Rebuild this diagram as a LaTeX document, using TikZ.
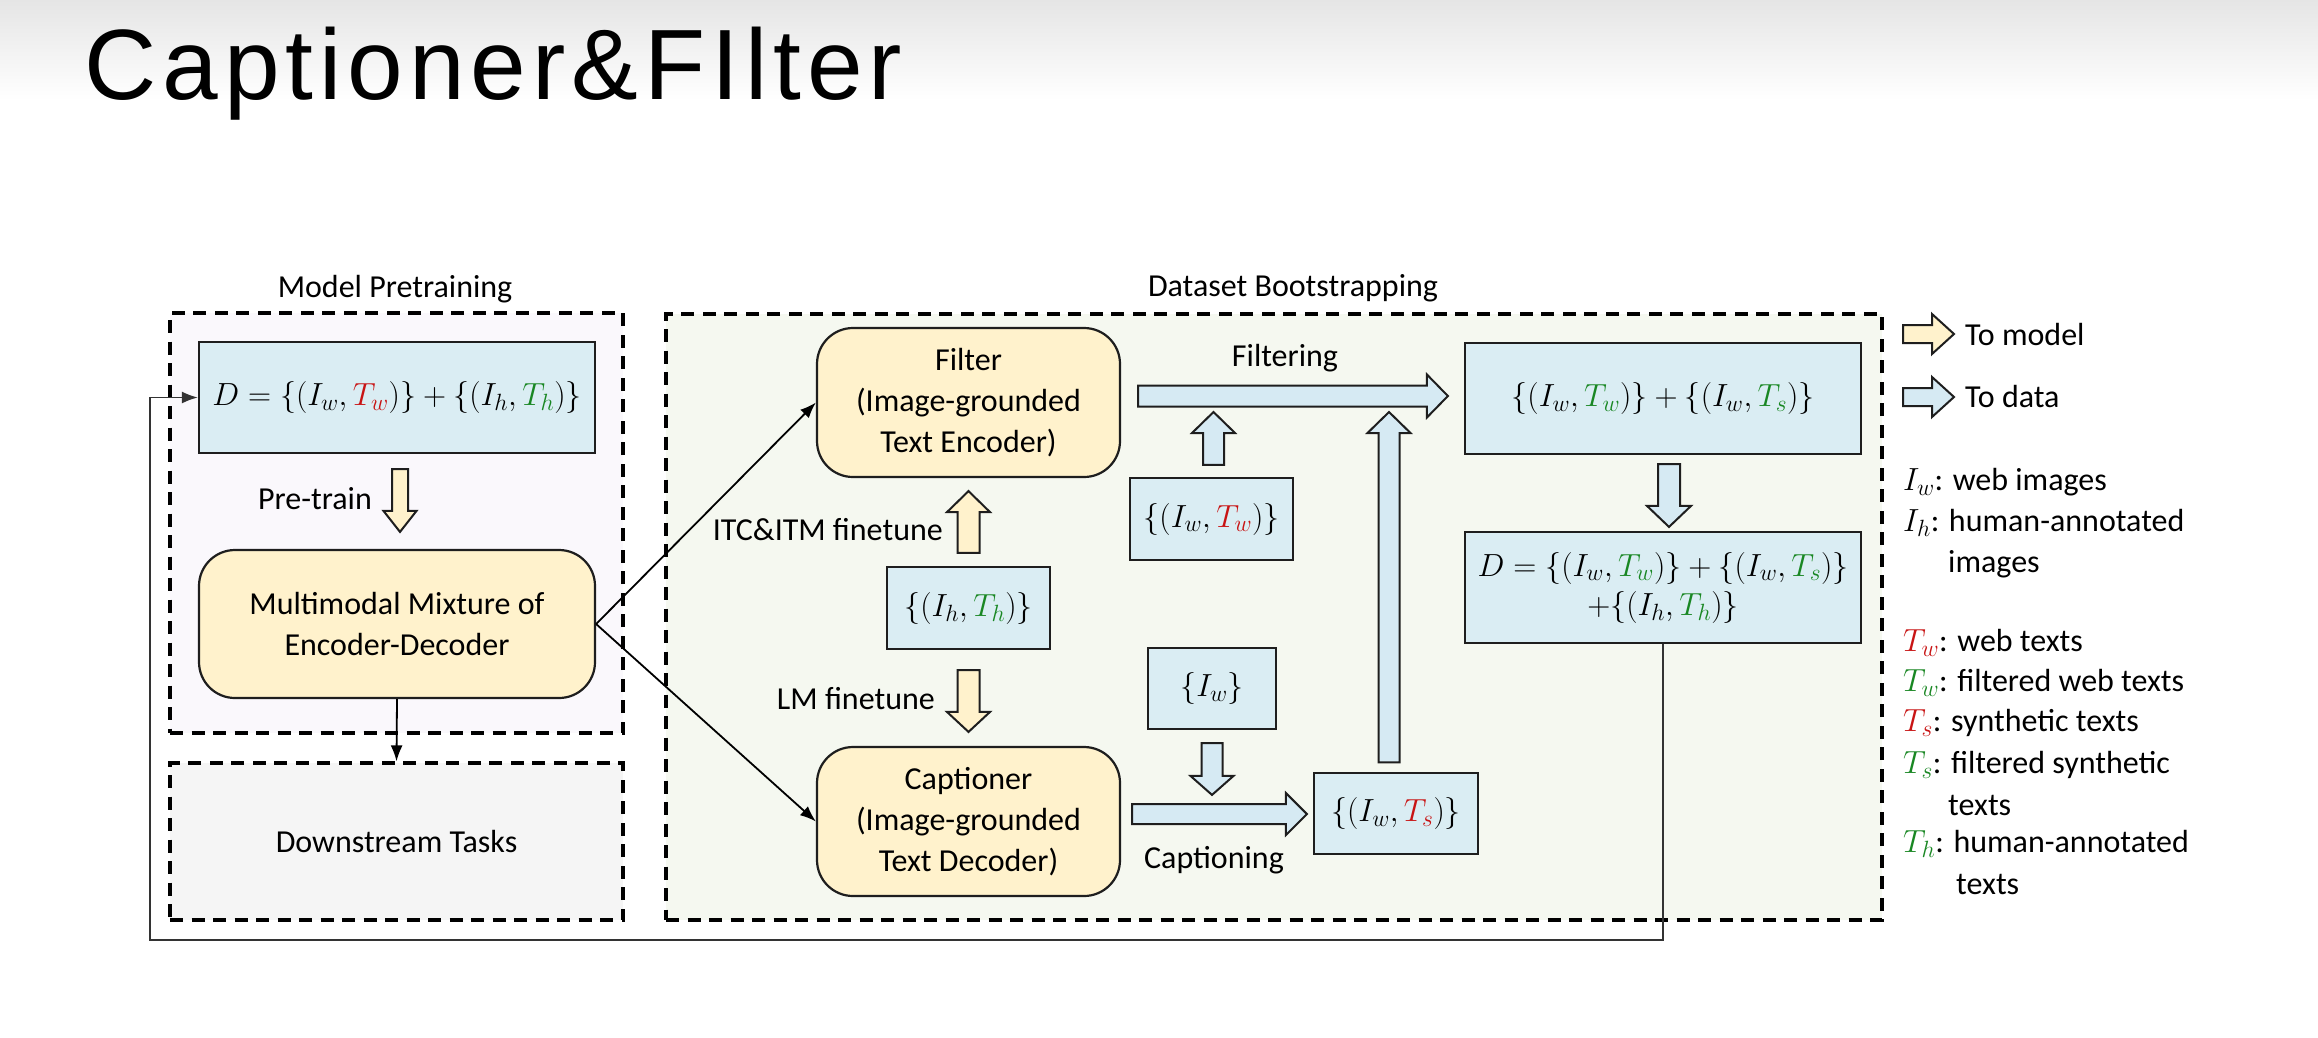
\RequirePackage{fix-cm}
\documentclass[tikz,border=0pt]{standalone}
\usepackage[no-math]{fontspec}
\setmainfont{Carlito}
\newfontfamily\titlefont[LetterSpace=6]{Liberation Sans}
\usetikzlibrary{calc,arrows.meta}
\DeclareMathSizes{32}{32}{23.5}{17}
\definecolor{bluebox}{RGB}{218,237,243}
\definecolor{yellowbox}{RGB}{255,242,204}
\definecolor{mpfill}{RGB}{250,248,252}
\definecolor{dsfill}{RGB}{245,245,245}
\definecolor{dbfill}{RGB}{245,248,240}
\definecolor{tred}{RGB}{200,20,20}
\definecolor{tgreen}{RGB}{25,135,35}
\definecolor{bluearrow}{RGB}{214,234,243}
\definecolor{topgray}{RGB}{229,229,229}
\definecolor{edge}{RGB}{30,30,30}

\newcommand{\fatarrow}[6]{%
  \coordinate (faS) at #2;
  \coordinate (faE) at #3;
  \coordinate (faH) at ($(faE)!#6!(faS)$);
  \draw[line width=2pt, draw=edge, fill=#1, line join=miter]
    ($(faS)!#4!90:(faE)$) -- ($(faH)!#4!90:(faE)$) -- ($(faH)!#5!90:(faE)$) --
    (faE) -- ($(faH)!#5!-90:(faE)$) -- ($(faH)!#4!-90:(faE)$) --
    ($(faS)!#4!-90:(faE)$) -- cycle;
}

\tikzset{
  region/.style={draw=black, line width=3.2pt, dash pattern=on 13pt off 8.5pt, inner sep=0pt},
  databox/.style={draw=edge, line width=2.2pt, fill=bluebox, inner sep=0pt, align=center},
  modelbox/.style={draw=edge, line width=2.2pt, fill=yellowbox, rounded corners=36pt, inner sep=0pt, align=center},
  lbl/.style={inner sep=0pt},
  link/.style={draw=black, line width=1.8pt, -{Latex[length=16pt,width=12pt]}},
  feedback/.style={draw=black!80, line width=1.8pt, -{Latex[length=16pt,width=12pt]}},
}

\begin{document}
\begin{tikzpicture}[x=1pt, y=-1pt, font=\fontsize{32}{41}\selectfont]
\useasboundingbox (0,0) rectangle (2318,1037);
\fill[white] (0,0) rectangle (2318,1037);
\shade[top color=topgray, bottom color=white] (0,0) rectangle (2318,100);

% title
\node[anchor=base west, inner sep=0pt] (title) at (84,99)
  {\titlefont\fontsize{100}{110}\selectfont Captioner\&FIlter};

% regions
\node[region, fill=mpfill, minimum width=453pt, minimum height=420pt] (mp) at (396.5,523) {};
\node[region, fill=dsfill, minimum width=453pt, minimum height=157pt] (ds) at (396.5,841.5) {Downstream Tasks};
\node[region, fill=dbfill, minimum width=1216pt, minimum height=606pt] (db) at (1274,617) {};
\node[lbl] (mplabel) at (395,289) {Model Pretraining};
\node[lbl] (dblabel) at (1293,288) {Dataset Bootstrapping};

% data boxes
\node[databox, minimum width=396pt, minimum height=111pt] (dbox) at (397,397.5)
  {$D=\{(I_w,\textcolor{tred}{T_w})\}+\{(I_h,\textcolor{tgreen}{T_h})\}$};
\node[databox, minimum width=163pt, minimum height=82pt] (ihth) at (968.5,608)
  {$\{(I_h,\textcolor{tgreen}{T_h})\}$};
\node[databox, minimum width=163pt, minimum height=82pt] (iwtw) at (1211.5,519)
  {$\{(I_w,\textcolor{tred}{T_w})\}$};
\node[databox, minimum width=128pt, minimum height=81pt] (iw) at (1212,688.5)
  {$\{I_w\}$};
\node[databox, minimum width=164pt, minimum height=81pt] (iwts) at (1396,813.5)
  {$\{(I_w,\textcolor{tred}{T_s})\}$};
\node[databox, minimum width=396pt, minimum height=111pt] (rb1) at (1663,398.5)
  {$\{(I_w,\textcolor{tgreen}{T_w})\}+\{(I_w,\textcolor{tgreen}{T_s})\}$};
\node[databox, minimum width=396pt, minimum height=111pt] (rb2) at (1663,587.5)
  {$D=\{(I_w,\textcolor{tgreen}{T_w})\}+\{(I_w,\textcolor{tgreen}{T_s})\}$\\[-2pt]
   ${+}\{(I_h,\textcolor{tgreen}{T_h})\}$};

% model boxes
\node[modelbox, minimum width=396pt, minimum height=148pt] (mmed) at (397,624)
  {Multimodal Mixture of\\Encoder-Decoder};
\node[modelbox, minimum width=303pt, minimum height=149pt] (filter) at (968.5,402.5)
  {Filter\\(Image-grounded\\Text Encoder)};
\node[modelbox, minimum width=303pt, minimum height=149pt] (capt) at (968.5,821.5)
  {Captioner\\(Image-grounded\\Text Decoder)};

% labels
\node[lbl, anchor=east] (ptlabel) at (372,499) {Pre-train};
\node[lbl, anchor=east] (itclabel) at (943,530) {ITC\&ITM finetune};
\node[lbl, anchor=east] (lmlabel) at (935,699) {LM finetune};
\node[lbl] (filtlabel) at (1285,358) {Filtering};
\node[lbl] (caplabel) at (1214,860) {Captioning};

% thin connectors
\draw[link] (mmed.east) -- (filter.west);
\draw[link] (mmed.east) -- (capt.west);
\draw[link] (mmed.south) -- (ds.north);
\coordinate (fbcorner) at (150,940);
\draw[feedback] (rb2.south) |- (fbcorner) |- (dbox.west);

% block arrows
\fatarrow{yellowbox}{($(dbox.south)+(3,15)$)}{($(mmed.north)+(3,-17)$)}{8pt}{16.5pt}{21pt}
\fatarrow{yellowbox}{($(ihth.north)+(0,-13)$)}{($(filter.south)+(0,13)$)}{11pt}{21.5pt}{21pt}
\fatarrow{yellowbox}{($(ihth.south)+(0,20)$)}{($(capt.north)+(0,-14)$)}{11pt}{21.5pt}{20pt}
\fatarrow{bluearrow}{($(filter.east)+(17,-6.5)$)}{($(rb1.west)+(-16,-2.5)$)}{10.5pt}{21.5pt}{21pt}
\fatarrow{bluearrow}{($(capt.east)+(11,-7.5)$)}{($(iwts.west)+(-6,0.5)$)}{10pt}{21pt}{21pt}
\coordinate (smalltip) at (1213.5,412);
\fatarrow{bluearrow}{($(iwtw.north)+(2,-12)$)}{(smalltip)}{10.5pt}{21.5pt}{21pt}
\coordinate (bigtip) at (1389,412);
\fatarrow{bluearrow}{($(iwts.north)+(-7,-9.5)$)}{(bigtip)}{10.5pt}{21.5pt}{21pt}
\fatarrow{bluearrow}{($(iw.south)+(0,13)$)}{($(iwts.north -| iw.south)+(0,23)$)}{10.5pt}{21.5pt}{19pt}
\fatarrow{bluearrow}{($(rb1.south)+(6,9)$)}{($(rb2.north)+(6,-4)$)}{11pt}{22pt}{21pt}

% legend
\coordinate (lgA1) at (1903,334);
\coordinate (lgA2) at (1954,334);
\coordinate (lgB1) at (1903,397);
\coordinate (lgB2) at (1954,397);
\fatarrow{yellowbox}{(lgA1)}{(lgA2)}{9pt}{20pt}{22pt}
\fatarrow{bluearrow}{(lgB1)}{(lgB2)}{9pt}{20pt}{22pt}
\node[lbl, anchor=west] (lgmodel) at (1965,334) {To model};
\node[lbl, anchor=west] (lgdata) at (1965,396) {To data};

\node[lbl, anchor=west] (lg1) at (1903,482) {$I_w$: web images};
\node[lbl, anchor=west] (lg2) at (1903,523) {$I_h$: human-annotated};
\node[lbl, anchor=west] (lg3) at (1948,564) {images};
\node[lbl, anchor=west] (lg4) at (1903,643) {$\textcolor{tred}{T_w}$: web texts};
\node[lbl, anchor=west] (lg5) at (1903,683) {$\textcolor{tgreen}{T_w}$: filtered web texts};
\node[lbl, anchor=west] (lg6) at (1903,723) {$\textcolor{tred}{T_s}$: synthetic texts};
\node[lbl, anchor=west] (lg7) at (1903,765) {$\textcolor{tgreen}{T_s}$: filtered synthetic};
\node[lbl, anchor=west] (lg8) at (1948,805) {texts};
\node[lbl, anchor=west] (lg9) at (1903,844) {$\textcolor{tgreen}{T_h}$: human-annotated};
\node[lbl, anchor=west] (lg10) at (1956,884) {texts};
\end{tikzpicture}
\end{document}
